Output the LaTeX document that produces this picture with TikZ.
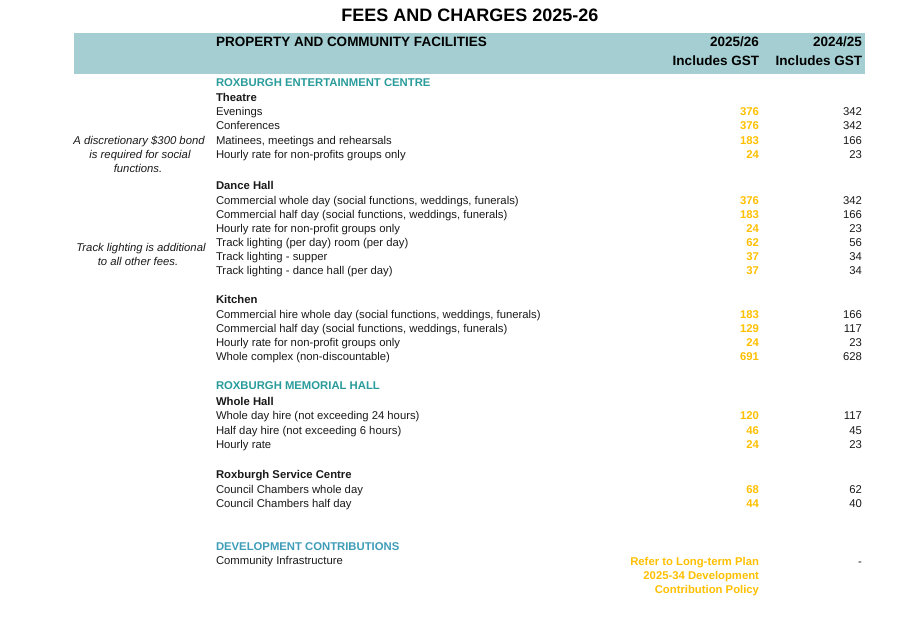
\documentclass[tikz,border=0pt]{standalone}
\usepackage{fontspec}
\setmainfont{Liberation Sans}
\definecolor{band}{HTML}{A4CED1}
\definecolor{teal}{HTML}{2A9C9B}
\definecolor{devblue}{HTML}{3F9DB8}
\definecolor{gold}{HTML}{FFC000}
\definecolor{ink}{HTML}{1A1A1A}
\begin{document}
\begin{tikzpicture}[x=1pt,y=-1pt,
  every node/.style={inner sep=0pt,outer sep=0pt},
  txt/.style={anchor=base west,font=\fontsize{11.3}{13}\selectfont,text=ink},
  sub/.style={txt,font=\fontsize{11.3}{13}\selectfont\bfseries},
  sect/.style={txt,font=\fontsize{11.3}{13}\selectfont\bfseries,text=teal},
  devsect/.style={txt,font=\fontsize{11.3}{13}\selectfont\bfseries,text=devblue},
  newv/.style={anchor=base east,font=\fontsize{11.3}{13}\selectfont\bfseries,text=gold},
  oldv/.style={anchor=base east,font=\fontsize{11.3}{13}\selectfont,text=ink},
  note/.style={anchor=base,font=\fontsize{11.3}{13}\selectfont\itshape,text=ink},
  head/.style={font=\fontsize{13.5}{16}\selectfont\bfseries,text=black}]
\useasboundingbox (0,0) rectangle (907,626);
\fill[white] (0,0) rectangle (907,626);
% title
\node[anchor=base,font=\fontsize{18}{20}\selectfont\bfseries] (title) at (470,22) {FEES AND CHARGES 2025-26};
% header band
\fill[band] (74,33) rectangle (865,74);
\node[head,anchor=base west] (hdr) at (216,47) {PROPERTY AND COMMUNITY FACILITIES};
\node[head,anchor=base east] (hy1) at (759,47) {2025/26};
\node[head,anchor=base east] (hg1) at (759,66) {Includes GST};
\node[head,anchor=base east] (hy2) at (862,47) {2024/25};
\node[head,anchor=base east] (hg2) at (862,66) {Includes GST};
% Roxburgh Entertainment Centre
\node[sect] (s1) at (216,86) {ROXBURGH ENTERTAINMENT CENTRE};
\node[sub] (t0) at (216,101) {Theatre};
\node[txt] (t1) at (216,115.5) {Evenings};
\node[newv] (t1a) at (759,115.5) {376};
\node[oldv] (t1b) at (862,115.5) {342};
\node[txt] (t2) at (216,129.8) {Conferences};
\node[newv] (t2a) at (759,129.8) {376};
\node[oldv] (t2b) at (862,129.8) {342};
\node[txt] (t3) at (216,144.1) {Matinees, meetings and rehearsals};
\node[newv] (t3a) at (759,144.1) {183};
\node[oldv] (t3b) at (862,144.1) {166};
\node[txt] (t4) at (216,158.4) {Hourly rate for non-profits groups only};
\node[newv] (t4a) at (759,158.4) {24};
\node[oldv] (t4b) at (862,158.4) {23};
\node[note] (n1) at (139,144.1) {A discretionary \$300 bond};
\node[note] (n2) at (140,158.4) {is required for social};
\node[note] (n3) at (138,172.7) {functions.};
% Dance hall
\node[sub] (d0) at (216,189) {Dance Hall};
\node[txt] (d1) at (216,204.3) {Commercial whole day (social functions, weddings, funerals)};
\node[newv] (d1a) at (759,204.3) {376};
\node[oldv] (d1b) at (862,204.3) {342};
\node[txt] (d2) at (216,218.3) {Commercial half day (social functions, weddings, funerals)};
\node[newv] (d2a) at (759,218.3) {183};
\node[oldv] (d2b) at (862,218.3) {166};
\node[txt] (d3) at (216,232.2) {Hourly rate for non-profit groups only};
\node[newv] (d3a) at (759,232.2) {24};
\node[oldv] (d3b) at (862,232.2) {23};
\node[txt] (d4) at (216,246) {Track lighting (per day) room (per day)};
\node[newv] (d4a) at (759,246) {62};
\node[oldv] (d4b) at (862,246) {56};
\node[txt] (d5) at (216,260) {Track lighting - supper};
\node[newv] (d5a) at (759,260) {37};
\node[oldv] (d5b) at (862,260) {34};
\node[txt] (d6) at (216,274.2) {Track lighting - dance hall (per day)};
\node[newv] (d6a) at (759,274.2) {37};
\node[oldv] (d6b) at (862,274.2) {34};
\node[note] (n4) at (141,251) {Track lighting is additional};
\node[note] (n5) at (138,265.5) {to all other fees.};
% Kitchen
\node[sub] (k0) at (216,303.2) {Kitchen};
\node[txt] (k1) at (216,318.3) {Commercial hire whole day (social functions, weddings, funerals)};
\node[newv] (k1a) at (759,318.3) {183};
\node[oldv] (k1b) at (862,318.3) {166};
\node[txt] (k2) at (216,332.3) {Commercial half day (social functions, weddings, funerals)};
\node[newv] (k2a) at (759,332.3) {129};
\node[oldv] (k2b) at (862,332.3) {117};
\node[txt] (k3) at (216,346.5) {Hourly rate for non-profit groups only};
\node[newv] (k3a) at (759,346.5) {24};
\node[oldv] (k3b) at (862,346.5) {23};
\node[txt] (k4) at (216,360.7) {Whole complex (non-discountable)};
\node[newv] (k4a) at (759,360.7) {691};
\node[oldv] (k4b) at (862,360.7) {628};
% Memorial hall
\node[sect] (s2) at (216,389) {ROXBURGH MEMORIAL HALL};
\node[sub] (m0) at (216,405) {Whole Hall};
\node[txt] (m1) at (216,419.8) {Whole day hire (not exceeding 24 hours)};
\node[newv] (m1a) at (759,419.8) {120};
\node[oldv] (m1b) at (862,419.8) {117};
\node[txt] (m2) at (216,434.2) {Half day hire (not exceeding 6 hours)};
\node[newv] (m2a) at (759,434.2) {46};
\node[oldv] (m2b) at (862,434.2) {45};
\node[txt] (m3) at (216,448.3) {Hourly rate};
\node[newv] (m3a) at (759,448.3) {24};
\node[oldv] (m3b) at (862,448.3) {23};
% Service centre
\node[sub] (c0) at (216,478.2) {Roxburgh Service Centre};
\node[txt] (c1) at (216,493.5) {Council Chambers whole day};
\node[newv] (c1a) at (759,493.5) {68};
\node[oldv] (c1b) at (862,493.5) {62};
\node[txt] (c2) at (216,507.8) {Council Chambers half day};
\node[newv] (c2a) at (759,507.8) {44};
\node[oldv] (c2b) at (862,507.8) {40};
% Development contributions
\node[devsect] (s3) at (216,550.5) {DEVELOPMENT CONTRIBUTIONS};
\node[txt] (v1) at (216,564.5) {Community Infrastructure};
\node[newv] (v1a) at (759,565) {Refer to Long-term Plan};
\node[newv] (v1c) at (759,579.3) {2025-34 Development};
\node[newv] (v1d) at (759,593.6) {Contribution Policy};
\node[oldv] (v1b) at (862,565) {-};
\end{tikzpicture}
\end{document}
